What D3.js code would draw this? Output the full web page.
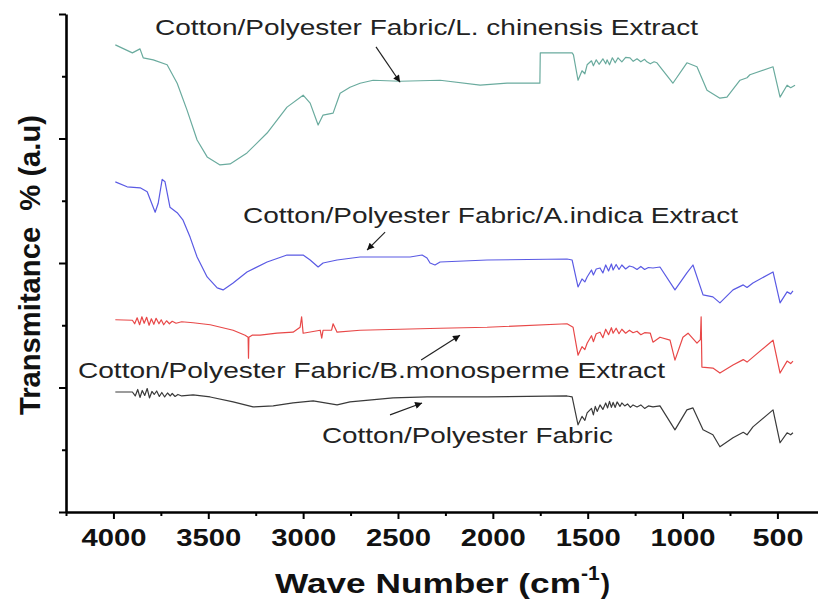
<!DOCTYPE html>
<html lang="en">
<head>
<meta charset="UTF-8">
<title>FTIR spectra</title>
<style>
    body { margin: 0; padding: 0; background: #fff; overflow: hidden; }
    text { font-family: Arial, "Liberation Sans", sans-serif; }
</style>
</head>
<body>
<svg id="graph" width="818" height="603"></svg>
<script src="https://cdn.jsdelivr.net/npm/d3@7"></script>
<script>
// wave number (cm-1), transmittance (a.u)
const fabric = [
    [3990, 24.1], [3900, 24.1], [3885, 23.3], [3872, 24.6], [3860, 23.0], [3848, 24.4], [3835, 23.4],
    [3822, 24.8], [3810, 22.9], [3797, 24.2], [3785, 23.6], [3772, 24.3], [3758, 23.2], [3745, 24.0],
    [3730, 23.1], [3715, 23.9], [3700, 23.3], [3690, 23.8], [3675, 23.2], [3660, 23.6], [3640, 23.3],
    [3580, 23.5], [3490, 23.1], [3369, 22.1], [3264, 21.1], [3158, 21.3], [3053, 21.9], [2947, 22.3],
    [2821, 21.5], [2753, 22.1], [2526, 22.9], [2347, 23.1], [2030, 23.1], [1609, 23.3], [1582, 23.1],
    [1551, 17.5], [1530, 19.2], [1515, 18.4], [1503, 19.9], [1480, 20.8], [1470, 19.5], [1460, 21.2],
    [1450, 20.2], [1435, 21.5], [1420, 20.6], [1405, 21.9], [1395, 20.9], [1385, 22.2], [1375, 21.0],
    [1366, 22.0], [1355, 21.0], [1345, 22.1], [1330, 21.2], [1320, 21.9], [1305, 21.3], [1290, 21.7],
    [1275, 21.0], [1261, 21.5], [1240, 21.1], [1220, 21.5], [1200, 20.8], [1180, 21.3], [1156, 21.1],
    [1119, 21.3], [1040, 16.5], [977, 20.5], [945, 20.9], [892, 16.5], [840, 15.5], [803, 13.1],
    [734, 14.9], [680, 16.0], [660, 15.5], [629, 17.1], [523, 20.5], [486, 13.9], [449, 15.9], [430, 15.5], [418, 15.9]
];
const monosperme = [
    [3990, 38.6], [3900, 38.5], [3888, 37.8], [3875, 39.0], [3862, 37.6], [3850, 39.2], [3838, 37.9],
    [3825, 39.1], [3812, 37.5], [3800, 38.8], [3787, 37.7], [3775, 38.9], [3760, 37.8], [3748, 38.6],
    [3735, 37.6], [3720, 38.4], [3705, 37.8], [3690, 38.3], [3670, 37.9], [3640, 38.2], [3580, 38.0],
    [3490, 37.6], [3369, 36.5], [3306, 35.5], [3290, 35.1], [3288, 30.9], [3286, 35.1], [3269, 35.5],
    [3227, 35.5], [3138, 35.9], [3053, 36.1], [3016, 37.1], [3008, 39.2], [3000, 35.9], [2910, 36.5],
    [2902, 34.9], [2895, 36.5], [2850, 36.5], [2842, 37.8], [2821, 36.1], [2700, 36.5], [2278, 36.9],
    [2030, 37.1], [1609, 37.8], [1577, 37.1], [1551, 31.5], [1530, 33.2], [1515, 32.6], [1503, 33.9],
    [1480, 35.4], [1470, 34.2], [1455, 35.8], [1435, 36.1], [1420, 35.0], [1405, 36.7], [1390, 35.6],
    [1375, 37.0], [1366, 35.9], [1350, 36.9], [1335, 35.8], [1320, 36.7], [1300, 35.9], [1280, 36.5],
    [1261, 36.0], [1240, 36.3], [1220, 35.6], [1200, 36.0], [1170, 35.9], [1156, 34.1], [1119, 35.1],
    [1066, 34.5], [1040, 30.5], [998, 35.1], [971, 35.9], [924, 33.9], [906, 34.6], [902, 39.2],
    [898, 29.1], [840, 28.9], [803, 27.9], [734, 29.5], [680, 30.6], [660, 30.1], [629, 31.1],
    [523, 34.5], [486, 27.9], [449, 30.3], [430, 29.8], [418, 30.3]
];
const indica = [
    [3990, 66.3], [3928, 65.3], [3859, 65.1], [3822, 64.3], [3780, 60.2], [3764, 62.0], [3743, 66.8],
    [3728, 66.3], [3702, 61.2], [3664, 60.1], [3633, 58.6], [3596, 55.2], [3559, 51.2], [3506, 47.2],
    [3453, 45.0], [3422, 44.6], [3369, 46.0], [3296, 48.2], [3190, 50.2], [3085, 51.6], [3000, 51.6],
    [2963, 50.6], [2921, 49.2], [2895, 50.0], [2821, 50.6], [2700, 51.2], [2610, 51.2], [2436, 51.2],
    [2373, 51.6], [2347, 51.0], [2331, 50.0], [2305, 49.6], [2278, 50.2], [2030, 50.6], [1609, 50.8],
    [1582, 50.6], [1551, 45.2], [1530, 46.8], [1515, 46.2], [1503, 47.2], [1480, 48.6], [1470, 47.6],
    [1455, 48.8], [1435, 49.0], [1420, 48.0], [1405, 49.6], [1390, 48.4], [1375, 49.8], [1366, 48.6],
    [1350, 49.7], [1335, 48.7], [1320, 49.6], [1300, 48.8], [1280, 49.4], [1261, 49.2], [1240, 48.7],
    [1220, 49.3], [1200, 48.7], [1180, 49.1], [1156, 49.0], [1119, 49.2], [1040, 44.6], [977, 48.0],
    [945, 49.6], [892, 43.6], [840, 43.2], [803, 42.0], [734, 44.6], [680, 45.6], [660, 45.1],
    [629, 46.0], [523, 48.2], [486, 42.0], [449, 44.2], [430, 43.8], [418, 44.4]
];
const chinensis = [
    [3990, 93.8], [3900, 92.2], [3860, 93.0], [3843, 91.2], [3790, 90.8], [3717, 89.8], [3664, 86.1],
    [3612, 80.7], [3559, 74.7], [3506, 71.3], [3438, 69.7], [3385, 69.9], [3296, 72.1], [3190, 76.1],
    [3085, 81.3], [3000, 83.7], [2963, 82.1], [2921, 77.7], [2895, 79.7], [2842, 80.1], [2805, 84.1],
    [2753, 85.3], [2700, 86.1], [2631, 86.7], [2489, 86.5], [2278, 86.7], [2067, 85.7], [1925, 86.1],
    [1767, 86.1], [1752, 86.1], [1750, 92.2], [1582, 92.2], [1575, 91.8], [1551, 86.7], [1530, 88.6],
    [1515, 88.0], [1503, 89.8], [1480, 90.6], [1470, 89.6], [1455, 90.8], [1440, 89.9], [1420, 91.0],
    [1405, 90.0], [1398, 90.8], [1385, 89.8], [1370, 91.2], [1355, 90.2], [1340, 91.2], [1320, 90.4],
    [1300, 91.3], [1277, 91.2], [1260, 90.5], [1240, 91.0], [1220, 90.4], [1200, 90.9], [1188, 90.4],
    [1170, 90.0], [1150, 90.4], [1135, 90.2], [1051, 86.1], [977, 90.2], [924, 89.4], [871, 84.7],
    [803, 83.1], [766, 83.3], [697, 86.7], [660, 87.2], [645, 87.8], [523, 89.4], [486, 83.3],
    [449, 85.7], [430, 85.2], [407, 85.7]
];

const seriesNames = [
    "Cotton/Polyester Fabric",
    "Cotton/Polyester Fabric/B.monosperme Extract",
    "Cotton/Polyester Fabric/A.indica Extract",
    "Cotton/Polyester Fabric/L. chinensis Extract"
];
const seriesColors = ["#3a3a3a", "#e84848", "#5a5ae4", "#6aab9e"];
const xTicks = [4000, 3500, 3000, 2500, 2000, 1500, 1000, 500];
const xMinor = [4250, 3750, 3250, 2750, 2250, 1750, 1250, 750];
const yTicks = [0, 25, 50, 75, 100];
const yMinor = [12.5, 37.5, 62.5, 87.5];

const allSeries = [fabric, monosperme, indica, chinensis];

const svg = d3.select("#graph");
const x = d3.scaleLinear().domain([4250, 286]).range([66, 818]);
const y = d3.scaleLinear().domain([0, 100]).range([512, 14]);

// curves
const line = d3.line().x(d => x(d[0])).y(d => y(d[1]));
svg.selectAll(".curve")
    .data(allSeries)
    .enter().append("path")
    .attr("class", "curve")
    .attr("d", line)
    .attr("fill", "none")
    .attr("stroke", (d, i) => seriesColors[i])
    .attr("stroke-width", 1.2)
    .attr("stroke-linejoin", "round");

// axes
const xAxis = svg.append("g").attr("transform", "translate(0,512)")
    .call(d3.axisBottom(x).tickValues(xTicks).tickSize(7).tickSizeOuter(0).tickFormat(d3.format("d")));
svg.append("g").attr("transform", "translate(0,512)")
    .call(d3.axisBottom(x).tickValues(xMinor).tickSize(4).tickSizeOuter(0).tickFormat(""))
    .select(".domain").remove();
xAxis.select(".domain").attr("stroke-width", 2.6);
xAxis.selectAll(".tick text")
    .attr("y", 34).attr("dy", null)
    .attr("font-size", 23).attr("font-weight", "bold").attr("fill", "#111")
    .attr("font-family", "Arial, 'Liberation Sans', sans-serif")
    .attr("textLength", d => d >= 1000 ? 65 : 51)
    .attr("lengthAdjust", "spacingAndGlyphs");

const yAxis = svg.append("g").attr("transform", "translate(66,0)")
    .call(d3.axisLeft(y).tickValues(yTicks).tickSize(7).tickSizeOuter(0).tickFormat(""));
svg.append("g").attr("transform", "translate(66,0)")
    .call(d3.axisLeft(y).tickValues(yMinor).tickSize(4).tickSizeOuter(0).tickFormat(""))
    .select(".domain").remove();
yAxis.select(".domain").attr("stroke-width", 2.6);
svg.selectAll(".tick line").attr("stroke-width", 2);

// axis titles
const xt = svg.append("text")
    .attr("x", 275).attr("y", 593)
    .attr("font-size", 28).attr("font-weight", "bold").attr("fill", "#111");
xt.append("tspan").text("Wave Number (cm").attr("textLength", 306).attr("lengthAdjust", "spacingAndGlyphs");
xt.append("tspan").text("-1").attr("font-size", 21).attr("dy", -13);
xt.append("tspan").text(")").attr("dy", 13).attr("dx", 1);

svg.append("text")
    .attr("transform", "translate(40,265) rotate(-90)")
    .attr("text-anchor", "middle")
    .attr("font-size", 29).attr("font-weight", "bold").attr("fill", "#111")
    .style("white-space", "pre")
    .attr("textLength", 300).attr("lengthAdjust", "spacingAndGlyphs")
    .text("Transmitance  % (a.u)");

// labels with arrows
const labels = [
    {name: seriesNames[0], w: 2901, v: 13.8, len: 291, tail: [2542, 19.5], head: [2373, 21.9]},
    {name: seriesNames[1], w: 4187, v: 26.9, len: 587, tail: [2378, 30.5], head: [2173, 35.5]},
    {name: seriesNames[2], w: 3317, v: 58.0, len: 495, tail: [2568, 56.2], head: [2663, 52.6]},
    {name: seriesNames[3], w: 3781, v: 95.8, len: 543, tail: [2616, 93.4], head: [2489, 86.3]}
];

svg.append("defs").append("marker")
    .attr("id", "arrow")
    .attr("viewBox", "0 0 10 10")
    .attr("refX", 10).attr("refY", 5)
    .attr("markerWidth", 9).attr("markerHeight", 7)
    .attr("markerUnits", "userSpaceOnUse")
    .attr("orient", "auto")
    .append("path").attr("d", "M0,0 L10,5 L0,10 Z").attr("fill", "#111");

svg.selectAll(".label")
    .data(labels)
    .enter().append("text")
    .attr("class", "label")
    .attr("x", d => x(d.w)).attr("y", d => y(d.v))
    .attr("font-size", 22).attr("fill", "#222")
    .attr("textLength", d => d.len).attr("lengthAdjust", "spacingAndGlyphs")
    .text(d => d.name);

svg.selectAll(".arrow")
    .data(labels)
    .enter().append("line")
    .attr("class", "arrow")
    .attr("x1", d => x(d.tail[0])).attr("y1", d => y(d.tail[1]))
    .attr("x2", d => x(d.head[0])).attr("y2", d => y(d.head[1]))
    .attr("stroke", "#222").attr("stroke-width", 1.2)
    .attr("marker-end", "url(#arrow)");
</script>
</body>
</html>
